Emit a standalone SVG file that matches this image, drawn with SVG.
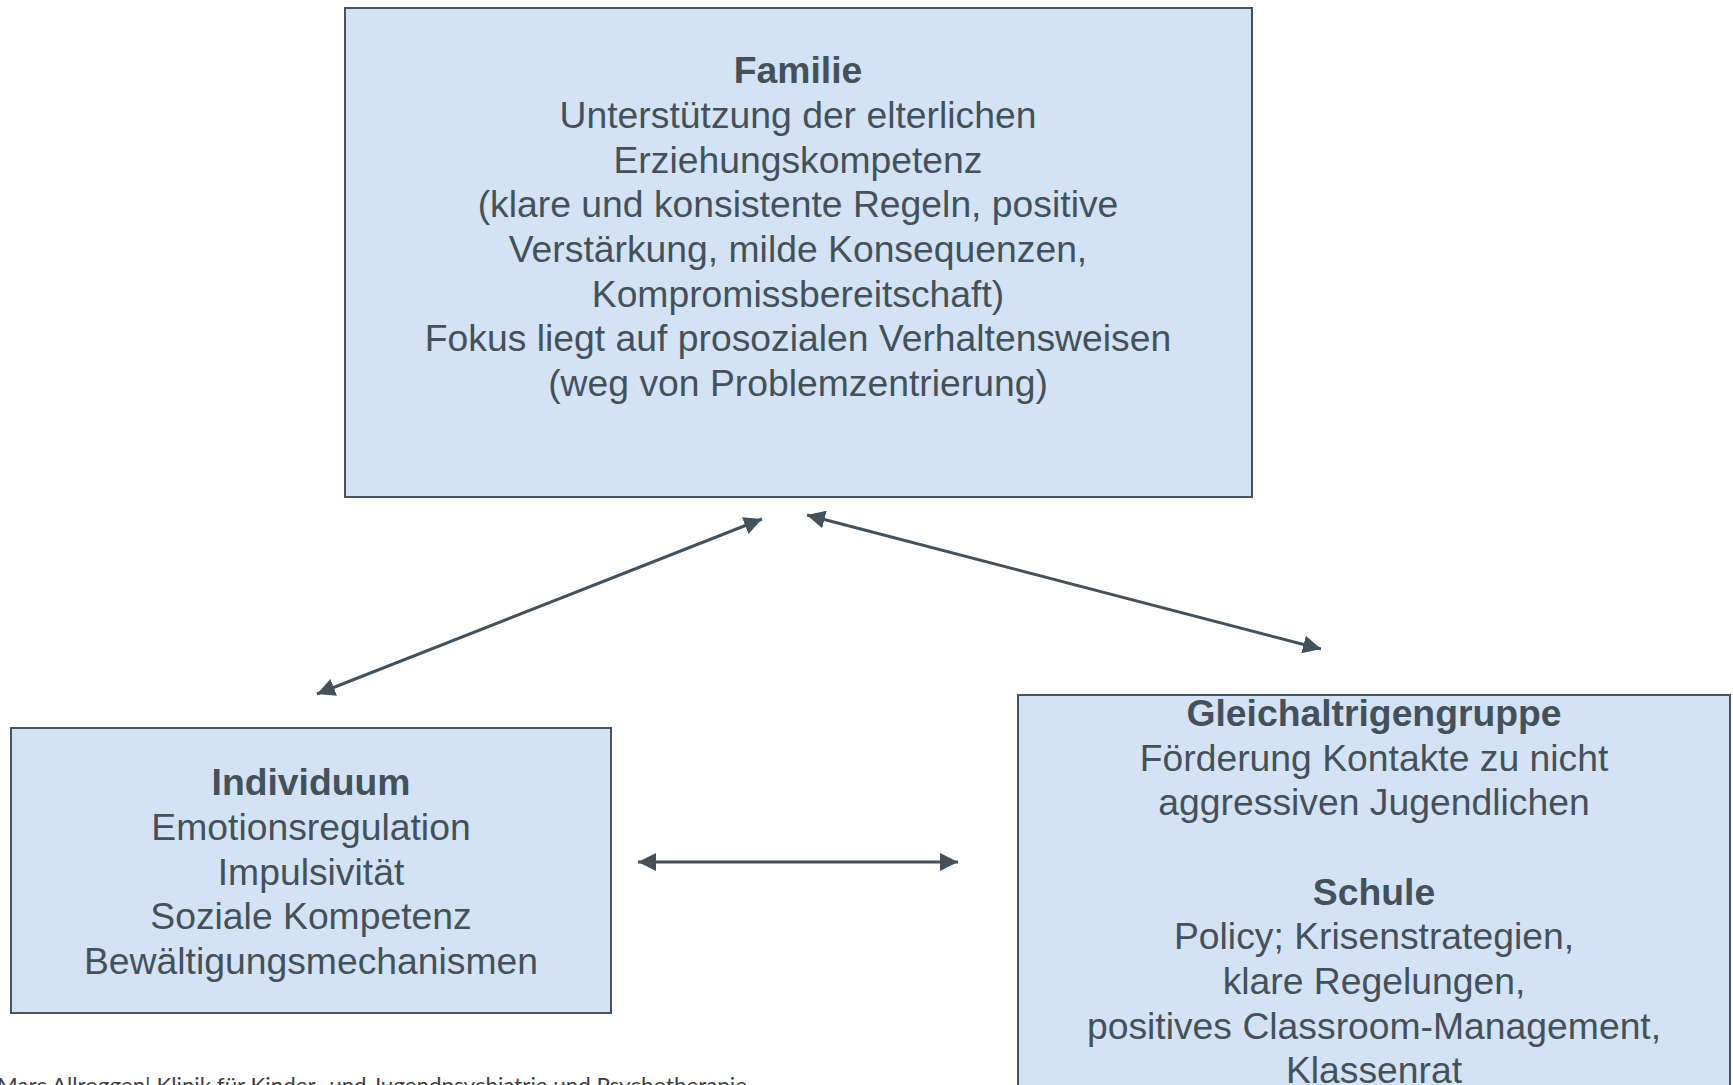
<svg xmlns="http://www.w3.org/2000/svg" width="1733" height="1085" viewBox="0 0 1733 1085">
<style>
.box{fill:#D3E3F5;stroke:#48535C;stroke-width:2}
.t{font-family:"Liberation Sans",Arial,sans-serif;font-size:37.3px;fill:#45515A;text-anchor:middle}
.b{font-weight:bold}
.c{stroke:#45515A;stroke-width:3;fill:none;marker-start:url(#ah);marker-end:url(#ah)}
.foot{font-family:Lato,"Open Sans",sans-serif;font-size:21px;fill:#3F3F3F}
</style>
<defs>
<marker id="ah" markerUnits="userSpaceOnUse" markerWidth="18" markerHeight="18" viewBox="0 0 16 16" refX="16" refY="8" orient="auto-start-reverse">
<path d="M0,0 L16,8 L0,16 Z" fill="#45515A"/>
</marker>
</defs>
<rect width="1733" height="1085" fill="#FFFFFF"/>
<g id="connectors">
<line class="c" x1="317" y1="694" x2="762" y2="519"/>
<line class="c" x1="807" y1="515" x2="1321" y2="649"/>
<line class="c" x1="638" y1="862" x2="958" y2="862"/>
</g>
<g id="familie">
<rect class="box" x="345" y="8" width="907" height="489"/>
<text class="t b" x="798" y="83">Familie</text>
<text class="t" x="798" y="128">Unterstützung der elterlichen</text>
<text class="t" x="798" y="173">Erziehungskompetenz</text>
<text class="t" x="798" y="217">(klare und konsistente Regeln, positive</text>
<text class="t" x="798" y="262">Verstärkung, milde Konsequenzen,</text>
<text class="t" x="798" y="307">Kompromissbereitschaft)</text>
<text class="t" x="798" y="351">Fokus liegt auf prosozialen Verhaltensweisen</text>
<text class="t" x="798" y="396">(weg von Problemzentrierung)</text>
</g>
<g id="individuum">
<rect class="box" x="11" y="728" width="600" height="285"/>
<text class="t b" x="311" y="795">Individuum</text>
<text class="t" x="311" y="840">Emotionsregulation</text>
<text class="t" x="311" y="885">Impulsivität</text>
<text class="t" x="311" y="929">Soziale Kompetenz</text>
<text class="t" x="311" y="974">Bewältigungsmechanismen</text>
</g>
<g id="gleichaltrige-schule">
<rect class="box" x="1018" y="695" width="712" height="400"/>
<text class="t b" x="1374" y="726">Gleichaltrigengruppe</text>
<text class="t" x="1374" y="771">Förderung Kontakte zu nicht</text>
<text class="t" x="1374" y="815">aggressiven Jugendlichen</text>
<text class="t b" x="1374" y="905">Schule</text>
<text class="t" x="1374" y="949">Policy; Krisenstrategien,</text>
<text class="t" x="1374" y="994">klare Regelungen,</text>
<text class="t" x="1374" y="1039">positives Classroom-Management,</text>
<text class="t" x="1374" y="1083">Klassenrat</text>
</g>
<g id="footer">
<text class="foot" x="-3" y="1093" textLength="750" lengthAdjust="spacingAndGlyphs">Marc Allroggen| Klinik für Kinder- und Jugendpsychiatrie und Psychotherapie</text>
</g>
</svg>
